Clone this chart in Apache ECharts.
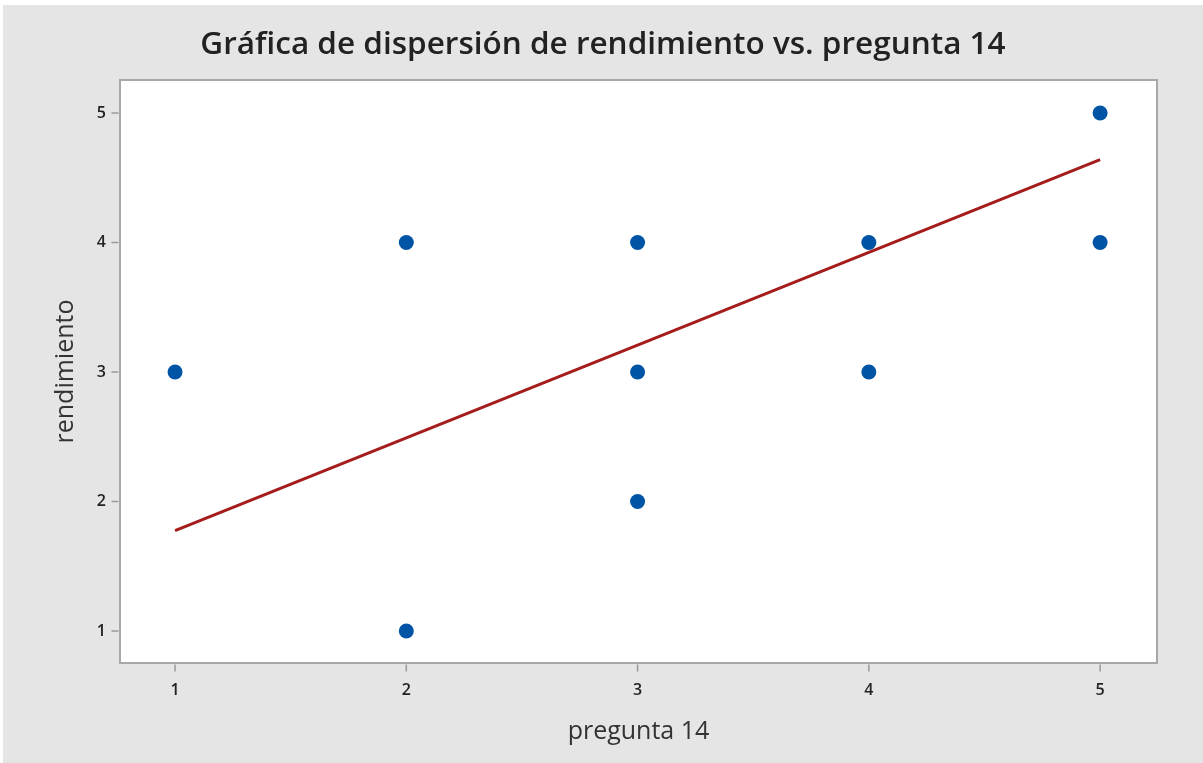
<!DOCTYPE html>
<html>
<head>
<meta charset="utf-8">
<script src="https://cdn.jsdelivr.net/npm/echarts@6/dist/echarts.min.js"></script>
<style>
html,body{margin:0;padding:0;background:#ffffff;}
#c{position:absolute;left:3px;top:5px;width:1200px;height:758px;background:#e5e5e5;}
</style>
</head>
<body>
<div id="c"></div>
<script>
const titleText = 'Gráfica de dispersión de rendimiento vs. pregunta 14';
const xName = 'pregunta 14';
const yName = 'rendimiento';
const pregunta14 = [1, 2, 2, 3, 3, 3, 4, 4, 5, 5];
const rendimiento = [3, 4, 1, 4, 3, 2, 4, 3, 5, 4];
const fitX = [1, 5];
const fitY = [1.775, 4.64];
const xTicks = [1, 2, 3, 4, 5];
const yTicks = [1, 2, 3, 4, 5];
const xRange = [0.762, 5.246];
const yRange = [0.753, 5.255];

const points = pregunta14.map((v, i) => [v, rendimiento[i]]);
const fitLine = fitX.map((v, i) => [v, fitY[i]]);
const xTickMarks = xTicks.map(v => [v, yRange[0]]);
const yTickMarks = yTicks.map(v => [xRange[0], v]);

const chart = echarts.init(document.getElementById('c'));
const font = '"Open Sans", "Noto Sans", sans-serif';
chart.setOption({
  backgroundColor: '#e5e5e5',
  animation: false,
  title: {
    text: titleText, left: 'center', top: 19,
    textStyle: {fontFamily: font, fontSize: 31.5, fontWeight: 600, color: '#222'}
  },
  grid: {
    left: 117, right: 46, top: 75, bottom: 100,
    show: true, backgroundColor: '#ffffff', borderColor: '#a8a8a8', borderWidth: 2
  },
  xAxis: {
    type: 'value', min: xRange[0], max: xRange[1],
    name: xName, nameLocation: 'middle', nameGap: 56,
    nameTextStyle: {fontFamily: font, fontSize: 25, color: '#333'},
    axisLine: {show: true, lineStyle: {color: '#a8a8a8', width: 2}},
    splitLine: {show: false},
    axisTick: {show: false},
    axisLabel: {customValues: xTicks, margin: 19, fontFamily: font, fontSize: 16, fontWeight: 600, color: '#222'}
  },
  yAxis: {
    type: 'value', min: yRange[0], max: yRange[1],
    name: yName, nameLocation: 'middle', nameGap: 42,
    nameTextStyle: {fontFamily: font, fontSize: 25, color: '#333'},
    axisLine: {show: true, lineStyle: {color: '#a8a8a8', width: 2}},
    splitLine: {show: false},
    axisTick: {show: false},
    axisLabel: {customValues: yTicks, margin: 14, fontFamily: font, fontSize: 16, fontWeight: 600, color: '#222'}
  },
  series: [
    {
      type: 'scatter', data: xTickMarks, symbol: 'rect', symbolSize: [1.5, 7],
      symbolOffset: [0, 5], clip: false, silent: true,
      itemStyle: {color: '#999', opacity: 1}, z: 1
    },
    {
      type: 'scatter', data: yTickMarks, symbol: 'rect', symbolSize: [7, 1.5],
      symbolOffset: [-5, 0], clip: false, silent: true,
      itemStyle: {color: '#999', opacity: 1}, z: 1
    },
    {
      type: 'line', data: fitLine, symbol: 'none',
      lineStyle: {color: '#a51c1c', width: 3}, z: 2
    },
    {
      type: 'scatter', data: points, symbolSize: 15,
      itemStyle: {color: '#0054a6', opacity: 1}, z: 3
    }
  ]
});
</script>
</body>
</html>
